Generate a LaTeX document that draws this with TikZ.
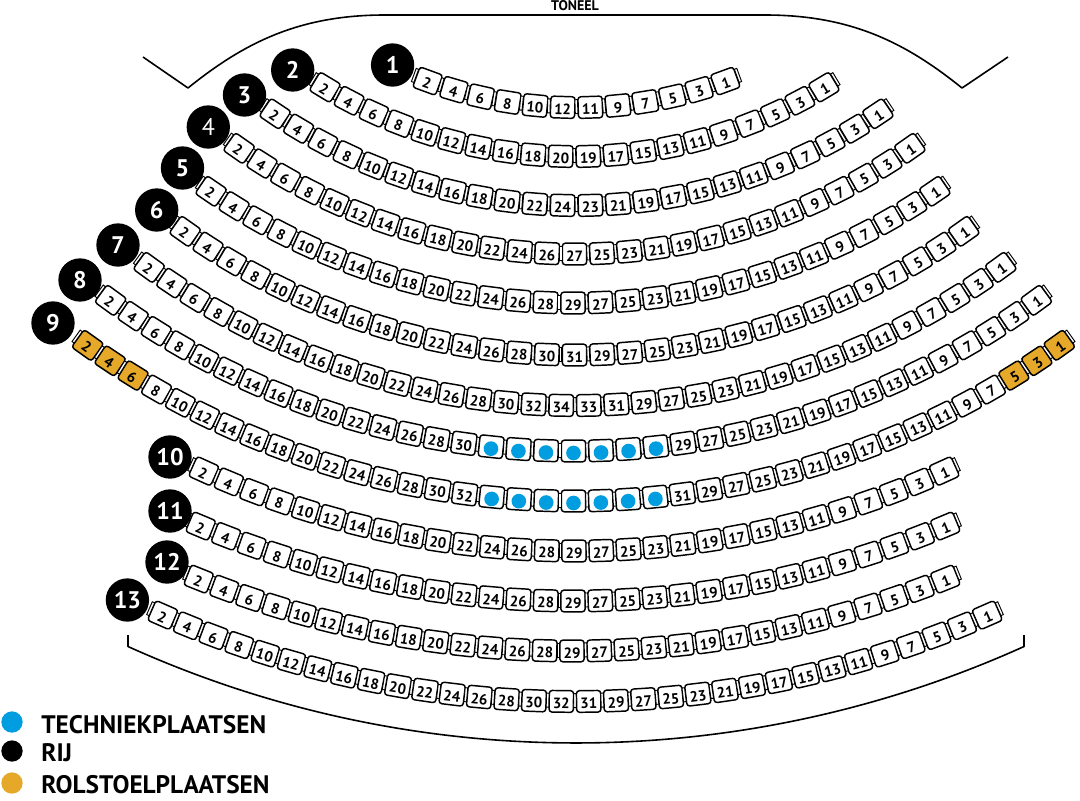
\documentclass[tikz,border=0pt]{standalone}
\usepackage{fontspec}
\setmainfont{PT Sans}
\definecolor{techblue}{RGB}{0,158,224}
\definecolor{wheelorange}{RGB}{229,168,41}
\tikzset{
  seatbox/.style={draw=black, line width=1.1pt, rounded corners=2.2pt, minimum width=18.2pt, minimum height=16.2pt, inner sep=0pt, fill=white},
  seatnum/.style={inner sep=0pt, font=\fontsize{11.2}{11.2}\selectfont\bfseries},
  armbox/.style={draw=black, line width=0.7pt, fill=white},
  rowlabel/.style={circle, fill=black, minimum size=32.5pt, inner sep=0pt, text=white, font=\fontsize{18}{18}\selectfont\bfseries},
  techdot/.style={circle, fill=techblue, minimum size=11pt, inner sep=0pt},
  hallline/.style={line width=1.2pt, line join=round},
  legendtext/.style={anchor=base west, inner sep=0pt, font=\fontsize{19}{19}\selectfont\bfseries},
  legenddot/.style={circle, minimum size=16pt, inner sep=0pt},
}
\def\parselab#1#2\relax{\def\firstch{#1}\def\restch{#2}}
% #1 id, #2 centre x, #3 bottom y, #4 end y, #5 half chord, #6 number of seats, #7 labels
\newcommand\seatrow[7]{%
  \pgfmathsetmacro\rowhh{(#3-#4)/100}%
  \pgfmathsetmacro\rowcc{#5/100}%
  \pgfmathsetmacro\rowRR{(\rowcc*\rowcc+\rowhh*\rowhh)/(2*\rowhh)}%
  \pgfmathsetmacro\rowth{asin(\rowcc/\rowRR)}%
  \pgfmathsetmacro\rowstp{2*\rowth/(#6-1)}%
  \pgfmathsetmacro\rowhp{100*\rowRR*\rowstp*pi/360}%
  \foreach \lab [count=\i] in {#7} {
    \pgfmathsetmacro\seatph{-\rowth+(\i-1)*\rowstp}
    \pgfmathsetmacro\seatx{#2+100*\rowRR*sin(\seatph)}
    \pgfmathsetmacro\seaty{#3-100*\rowRR*(1-cos(\seatph))}
    \expandafter\parselab\lab\relax
    \begin{scope}[shift={(\seatx,\seaty)}, rotate=\seatph, transform shape]
      \if o\firstch
        \node[seatbox, fill=wheelorange] (s#1-\i) at (0,-2) {};
        \node[seatnum] (n#1-\i) at (0,0) {\restch};
      \else\if d\firstch
        \node[seatbox] (s#1-\i) at (0,-2) {};
        \node[techdot] (n#1-\i) at (0,0) {};
      \else
        \node[seatbox] (s#1-\i) at (0,-2) {};
        \node[seatnum] (n#1-\i) at (0,0) {\lab};
      \fi\fi
      \draw[armbox] (-\rowhp-1.3,-10) rectangle (-\rowhp+1.3,4);
      \ifnum\i=#6 \draw[armbox] (\rowhp-1.3,-10) rectangle (\rowhp+1.3,4);\fi
    \end{scope}
  }%
}
\begin{document}
\begin{tikzpicture}[x=0.75pt, y=-0.75pt]
\useasboundingbox (0,0) rectangle (1080,800);
% stage
\node[anchor=base, inner sep=0pt, font=\fontsize{10.5}{10.5}\selectfont\bfseries] (toneel) at (575,10) {TONEEL};
\draw[hallline] (143,57) -- (188,88) .. controls (245,42) and (300,15) .. (385,15) -- (765,15) .. controls (850,15) and (905,42) .. (962,88) -- (1008,57);
% back wall
\draw[hallline] (128,635) -- (128,646.5) .. controls (412.8,775.1) and (739.2,775.1) .. (1024,646.5) -- (1024,635);
% rows
\seatrow{1}{576.5}{109.5}{83}{149.5}{12}{2,4,...,12,11,9,...,1}
\seatrow{2}{574.5}{158.5}{89}{250.5}{20}{2,4,...,20,19,17,...,1}
\seatrow{3}{576.5}{207.5}{115.5}{302.5}{24}{2,4,...,24,23,21,...,1}
\seatrow{4}{574.5}{256}{150}{336.5}{27}{2,4,...,26,27,25,...,1}
\seatrow{5}{573}{305}{193}{363}{29}{2,4,...,28,29,27,...,1}
\seatrow{6}{574.5}{357}{233}{390.5}{31}{2,4,...,30,31,29,...,1}
\seatrow{7}{575}{407.5}{269}{427}{34}{2,4,...,34,33,31,...,1}
\seatrow{8}{573.5}{453}{302}{464}{37}{2,4,...,30,d,d,d,d,d,d,d,29,27,...,1}
\seatrow{9}{573.5}{503}{347}{487}{39}{o2,o4,o6,8,10,...,32,d,d,d,d,d,d,d,31,29,...,7,o5,o3,o1}
\seatrow{10}{574}{553}{473}{371}{29}{2,4,...,28,29,27,...,1}
\seatrow{11}{573}{603}{528}{373}{29}{2,4,...,28,29,27,...,1}
\seatrow{12}{572}{653}{581}{374}{29}{2,4,...,28,29,27,...,1}
\seatrow{13}{575}{703.5}{617}{413}{32}{2,4,...,32,31,29,...,1}
% row labels
\node[rowlabel] (r1) at (392.6,65) {1};
\node[rowlabel] (r2) at (292.7,70) {2};
\node[rowlabel] (r3) at (244.5,95) {3};
\node[rowlabel, font=\fontsize{18}{18}\selectfont] (r4) at (208.3,127) {4};
\node[rowlabel] (r5) at (182.5,168) {5};
\node[rowlabel] (r6) at (156.7,210) {6};
\node[rowlabel] (r7) at (118,245) {7};
\node[rowlabel] (r8) at (80,280) {8};
\node[rowlabel] (r9) at (53,323) {9};
\node[rowlabel] (r10) at (170,457) {10};
\node[rowlabel] (r11) at (170,511) {11};
\node[rowlabel] (r12) at (167,562) {12};
\node[rowlabel] (r13) at (127.4,600) {13};
% legend
\node[legenddot, fill=techblue] (ldot1) at (12,722) {};
\node[legenddot, fill=black] (ldot2) at (12,751) {};
\node[legenddot, fill=wheelorange] (ldot3) at (12,783) {};
\node[legendtext] (ltext1) at (41,733) {TECHNIEKPLAATSEN};
\node[legendtext] (ltext2) at (41,761.5) {RIJ};
\node[legendtext] (ltext3) at (41,793) {ROLSTOELPLAATSEN};
\end{tikzpicture}
\end{document}
